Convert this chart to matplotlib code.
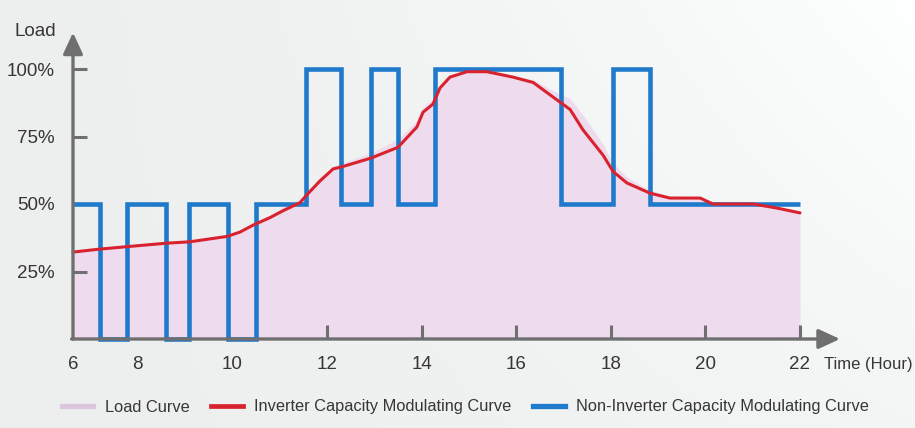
import numpy as np
import matplotlib
matplotlib.use("Agg")
import matplotlib.pyplot as plt
from matplotlib.lines import Line2D

plt.rcParams['font.family'] = ['Liberation Sans', 'DejaVu Sans']

# ---- data (hours, % load) ----
x_ticks = [6.63, 8, 10, 12, 14, 16, 18, 20, 22]
x_labels = ['6', '8', '10', '12', '14', '16', '18', '20', '22']
y_ticks = [25, 50, 75, 100]
y_labels = ['25%', '50%', '75%', '100%']

# non-inverter on/off cycling (step edges and levels)
blue_edges = [6.63, 7.20, 7.77, 8.60, 9.08, 9.91, 10.50, 11.56, 12.30,
              12.93, 13.50, 14.28, 16.95, 18.05, 18.83, 22.0]
blue_levels = [50, 0, 50, 0, 50, 0, 50, 100, 50, 100, 50, 100, 50, 100, 50]

# inverter curve
red_h = [6.63, 7.20, 7.90, 8.62, 9.10, 9.89, 10.16, 10.44, 10.80, 11.07,
         11.43, 11.58, 11.85, 12.13, 12.30, 12.93, 13.50, 13.90, 14.03, 14.24,
         14.39, 14.60, 14.96, 15.38, 15.93, 16.36, 16.78, 17.14, 17.41, 17.84,
         18.05, 18.34, 18.83, 19.25, 19.89, 20.16, 21.01, 21.51, 22.0]
red_v = [32.2, 33.3, 34.4, 35.5, 36, 38, 39.6, 42.2, 45, 47.5,
         50.5, 53.5, 58.5, 63, 63.7, 67, 71, 78.5, 84, 87,
         93, 97, 99, 99, 97, 95, 89.6, 85, 77.5, 68,
         62, 57.8, 54, 52.2, 52.2, 50, 50, 48.5, 46.7]

# load curve (shaded area)
load_v = [32.5, 33.5, 34.6, 35.7, 36.3, 38.3, 40, 42.8, 46, 49,
          52, 55, 60, 64, 65, 69, 74, 81, 86, 89,
          94, 97.5, 99, 99, 97.5, 96, 92, 89, 83, 72,
          65, 60, 55, 53, 52.5, 50.5, 50.5, 49, 47.5]

PINK = '#efdbee'
RED = '#d8232f'
BLUE = '#1f7acb'
GREY = '#6f6f6f'
TXT = '#363636'

W, H = 915, 428
fig = plt.figure(figsize=(W / 100, H / 100), dpi=100)

# light grey -> white background
bg = fig.add_axes([0, 0, 1, 1])
gx = np.linspace(0, 1, 300)
gy = np.linspace(0, 1, 150)[:, None]
shade = 0.935 + 0.065 * np.clip(gx ** 1.5 * (0.4 + 0.6 * gy), 0, 1)
bg.imshow(np.dstack([shade * 0.995, shade, shade]), aspect='auto',
          extent=[0, 1, 0, 1], origin='lower')
bg.axis('off')

ax = fig.add_axes([73 / W, (H - 339) / H, (800 - 73) / W, (339 - 69) / H])
ax.patch.set_alpha(0)
ax.set_xlim(6.63, 22)
ax.set_ylim(0, 100)
for s in ax.spines.values():
    s.set_visible(False)

ax.fill_between(red_h, 0, load_v, color=PINK, lw=0, zorder=1)
ax.stairs(blue_levels, blue_edges, baseline=None, color=BLUE, lw=3.3,
          zorder=3, clip_on=False)
ax.plot(red_h, red_v, color=RED, lw=2.2, zorder=4, clip_on=False,
        solid_capstyle='round')

# axes with arrow heads
arrow = dict(arrowstyle='-|>,head_length=1.3,head_width=0.6', color=GREY,
             lw=2.4, shrinkA=0, shrinkB=0, mutation_scale=10)
ax.annotate('', xy=(0, 1.135), xytext=(0, 0), xycoords='axes fraction',
            arrowprops=arrow, zorder=5, annotation_clip=False)
ax.annotate('', xy=(1.055, 0), xytext=(-0.002, 0), xycoords='axes fraction',
            arrowprops=arrow, zorder=5, annotation_clip=False)

ax.set_xticks(x_ticks)
ax.set_xticklabels(x_labels)
ax.set_yticks(y_ticks)
ax.set_yticklabels(y_labels)
ax.tick_params(axis='both', direction='in', length=10, width=2.2,
               color=GREY, labelcolor=TXT, labelsize=13.5)
ax.tick_params(axis='x', pad=12)
ax.tick_params(axis='y', pad=13)
for t in ax.xaxis.get_major_ticks()[:3]:
    t.tick1line.set_visible(False)

fig.text(15 / W, 1 - 31 / H, 'Load', fontsize=13.5, color=TXT,
         ha='left', va='center')
fig.text(824 / W, 1 - 364 / H, 'Time (Hour)', fontsize=12, color=TXT,
         ha='left', va='center')

handles = [Line2D([], [], color='#dcc6de', lw=3.8),
           Line2D([], [], color=RED, lw=3.4),
           Line2D([], [], color=BLUE, lw=3.8)]
labels = ['Load Curve', 'Inverter Capacity Modulating Curve',
          'Non-Inverter Capacity Modulating Curve']
fig.legend(handles, labels, loc='center left', bbox_to_anchor=(62 / W, 21 / H),
           ncol=3, frameon=False, fontsize=11.8, handlelength=1.9,
           handletextpad=0.7, columnspacing=1.35, borderpad=0,
           borderaxespad=0, labelcolor=TXT)

fig.savefig('out.png', dpi=100)
